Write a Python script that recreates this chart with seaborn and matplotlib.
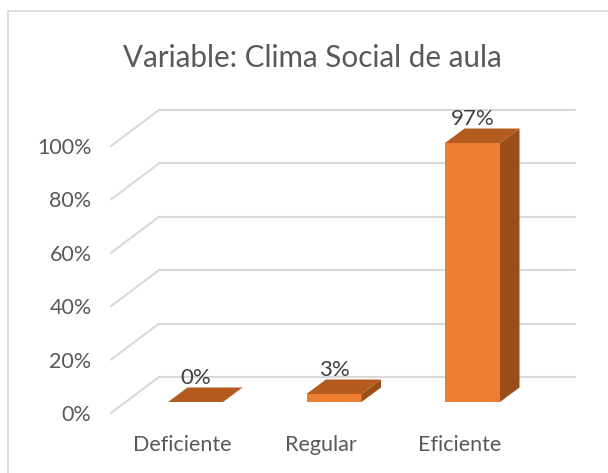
import matplotlib
matplotlib.use("Agg")
import matplotlib.pyplot as plt
import pandas as pd
import seaborn as sns
from matplotlib.lines import Line2D
from matplotlib.patches import Polygon

categorias = ["Deficiente", "Regular", "Eficiente"]
valores = [0, 3, 97]
ticks_y = [0, 20, 40, 60, 80, 100]
titulo = "Variable: Clima Social de aula"

W, H = 608, 473
# front plane of the bars, in pixels
px_x0, px_dx = 195.5, 138.5
px_y0, px_por_pct = 402.0, 2.67
# depth of bar and of the floor
bar_w = 55 / px_dx
bar_dx, bar_dy = 19.5 / px_dx, 14.5 / px_por_pct
back_dx, back_dy = (159 - 111) / px_dx, 36 / px_por_pct
x_izq = (111 - px_x0) / px_dx
x_der = (575 - px_x0) / px_dx
y_piso = (px_y0 - 413) / px_por_pct
y_tope = (px_y0 - 110) / px_por_pct

GRID = "#d9d9d9"
TXT = "#595959"
FRENTE = "#ed7d31"
ARRIBA = "#b45c20"
LADO = "#9a4f1b"

sns.set_theme(style="white")
plt.rcParams["font.family"] = ["Lato", "DejaVu Sans"]

df = pd.DataFrame({"categoria": categorias, "valor": valores})

fig = plt.figure(figsize=(W / 100, H / 100), dpi=100)
ax = fig.add_axes([111 / W, 1 - 413 / H, (575 - 111) / W, (413 - 110) / H])

# back wall grid and the diagonals on the left wall
for v in ticks_y:
    yb = y_piso + back_dy + v
    ax.plot([x_izq + back_dx, x_der], [yb, yb], color=GRID, lw=1.5, zorder=1, clip_on=False)
    ax.plot([x_izq, x_izq + back_dx], [y_piso + v, yb], color=GRID, lw=1.5, zorder=1, clip_on=False)

sns.barplot(data=df, x="categoria", y="valor", color=FRENTE, saturation=1, width=bar_w, ax=ax,
            zorder=3, linewidth=0)

# top and side faces of every bar
for i, v in enumerate(valores):
    l, r = i - bar_w / 2, i + bar_w / 2
    ax.add_patch(Polygon([(l, v), (r, v), (r + bar_dx, v + bar_dy), (l + bar_dx, v + bar_dy)],
                         fc=ARRIBA, ec="none", zorder=4))
    ax.add_patch(Polygon([(r, 0), (r + bar_dx, bar_dy), (r + bar_dx, v + bar_dy), (r, v)],
                         fc=LADO, ec="none", zorder=4))
    ax.text(i, v + bar_dy - 0.2, f"{v}%", ha="center", va="bottom",
            fontsize=16, color="#404040", zorder=5)

ax.set_xlim(x_izq, x_der)
ax.set_ylim(y_piso, y_tope)
ax.set_xlabel("")
ax.set_ylabel("")
ax.set_xticks([i - 13 / px_dx for i in range(3)], categorias)
ax.set_yticks([y_piso + v for v in ticks_y], [f"{v}%" for v in ticks_y])
ax.tick_params(axis="both", length=0, labelsize=15.5, labelcolor=TXT)
ax.tick_params(axis="x", pad=16)
ax.tick_params(axis="y", pad=14)
sns.despine(ax=ax, left=True, bottom=True)

fig.text(312.5 / W, 1 - 58 / H, titulo, ha="center", va="center", fontsize=21.3, color=TXT)
# chart frame, only top and left are inside the crop
fig.add_artist(Line2D([8 / W, 8 / W, 1], [0, 1 - 11.5 / H, 1 - 11.5 / H], color=GRID, lw=1.2))

fig.savefig("out.png", dpi=100)
